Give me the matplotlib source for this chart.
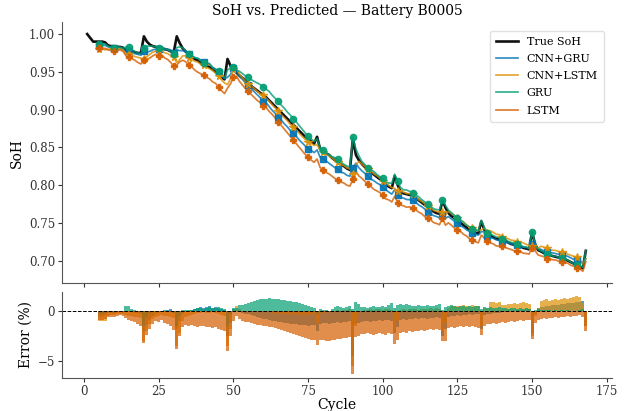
import numpy as np
import matplotlib
matplotlib.use("Agg")
import matplotlib.pyplot as plt

plt.rcParams['font.family'] = ['DejaVu Serif']

# ---------------- data ----------------
true_cycles = list(range(1, 169))
true_soh = [
    1.000, 0.995, 0.990, 0.990, 0.990, 0.990, 0.989, 0.985, 0.984, 0.984,
    0.983, 0.983, 0.982, 0.978, 0.978, 0.977, 0.976, 0.975, 0.975, 0.997,
    0.990, 0.986, 0.984, 0.983, 0.982, 0.981, 0.980, 0.979, 0.977, 0.976,
    0.997, 0.988, 0.981, 0.977, 0.973, 0.970, 0.967, 0.965, 0.962, 0.960,
    0.958, 0.956, 0.953, 0.950, 0.947, 0.943, 0.940, 0.967, 0.958, 0.953,
    0.949, 0.945, 0.942, 0.938, 0.935, 0.931, 0.928, 0.925, 0.922, 0.919,
    0.916, 0.912, 0.908, 0.904, 0.900, 0.896, 0.892, 0.888, 0.884, 0.880,
    0.876, 0.872, 0.868, 0.864, 0.861, 0.858, 0.855, 0.864, 0.848, 0.845,
    0.842, 0.840, 0.836, 0.833, 0.830, 0.827, 0.825, 0.822, 0.820, 0.862,
    0.840, 0.833, 0.828, 0.824, 0.820, 0.817, 0.814, 0.811, 0.808, 0.805,
    0.801, 0.798, 0.796, 0.812, 0.800, 0.791, 0.789, 0.788, 0.787, 0.786,
    0.783, 0.780, 0.777, 0.774, 0.771, 0.768, 0.765, 0.763, 0.762, 0.780,
    0.770, 0.763, 0.759, 0.756, 0.753, 0.750, 0.747, 0.744, 0.741, 0.739,
    0.737, 0.736, 0.752, 0.741, 0.735, 0.733, 0.731, 0.729, 0.728, 0.727,
    0.726, 0.724, 0.722, 0.721, 0.720, 0.719, 0.717, 0.716, 0.715, 0.738,
    0.722, 0.714, 0.712, 0.710, 0.708, 0.707, 0.706, 0.705, 0.704, 0.703,
    0.702, 0.700, 0.698, 0.696, 0.694, 0.692, 0.690, 0.713,
]

pred_start = 5  # predictions available from cycle 5 on

# prediction errors in % (cycles 5..168)
err_cnn_gru = [
    -0.6, -0.5, -0.4, -0.2, -0.2, -0.2, -0.1, -0.1, -0.2, 0.0,
    -0.1, -0.1, -0.2, -0.2, -0.3, -2.0, -1.4, -0.9, -0.5, -0.3,
    -0.2, -0.1, -0.1, 0.1, 0.2, -0.1, -1.8, -1.0, -0.3, -0.1,
    0.0, 0.1, 0.2, 0.3, 0.4, 0.3, 0.4, 0.5, 0.3, 0.4,
    0.3, 0.2, 0.1, -2.5, -1.2, 0.2, 0.1, -0.1, -0.2, -0.3,
    -0.3, -0.4, -0.5, -0.6, -0.7, -0.8, -0.8, -0.9, -1.0, -1.0,
    -1.1, -1.1, -1.2, -1.2, -1.3, -1.3, -1.3, -1.4, -1.4, -1.4,
    -1.5, -1.4, -1.4, -2.0, -1.3, -1.2, -1.2, -1.3, -1.2, -1.2,
    -1.1, -1.2, -1.1, -1.1, -1.0, -4.5, -1.3, -1.2, -1.1, -1.0,
    -1.0, -1.1, -1.0, -1.0, -0.9, -1.0, -0.9, -0.9, -1.0, -2.2,
    -1.6, -0.9, -0.8, -0.9, -0.8, -0.8, -0.7, -0.8, -0.7, -0.7,
    -0.8, -0.7, -0.7, -0.6, -0.7, -2.5, -1.8, -0.6, -0.5, -0.5,
    -0.4, -0.5, -0.4, -0.4, -0.3, -0.4, -0.3, -0.3, -1.8, -0.4,
    -0.3, -0.3, -0.2, -0.2, -0.2, -0.1, -0.1, -0.1, 0.0, 0.0,
    0.1, 0.1, 0.1, 0.2, 0.2, -2.2, -0.3, 0.3, 0.4, 0.4,
    0.5, 0.5, 0.6, 0.6, 0.6, 0.7, 0.7, 0.8, 0.8, 0.8,
    0.9, 0.9, 1.0, -1.5,
]
err_cnn_lstm = [
    -1.0, -1.0, -1.0, -0.5, -0.4, -0.4, -0.3, -0.3, -0.3, -0.4,
    -0.5, -0.5, -0.6, -0.6, -0.7, -3.0, -2.0, -1.3, -0.8, -0.6,
    -0.5, -0.4, -0.5, -0.5, -0.6, -0.7, -3.5, -2.2, -1.0, -0.6,
    -0.5, -0.4, -0.3, -0.2, -0.2, -0.1, -0.2, -0.2, -0.1, -0.2,
    -0.3, -0.4, -0.5, -3.5, -1.8, 0.1, 0.5, 0.2, 0.0, -0.1,
    -0.1, 0.0, 0.0, -0.1, -0.1, 0.0, -0.1, -0.1, -0.2, -0.2,
    -0.2, -0.3, -0.3, -0.3, -0.4, -0.3, -0.3, -0.4, -0.4, -0.4,
    -0.4, -0.3, -0.3, -1.2, -0.2, -0.2, -0.1, -0.1, 0.0, 0.0,
    0.1, 0.0, 0.1, 0.1, 0.2, -5.5, -1.5, -0.2, 0.0, 0.1,
    0.1, 0.2, 0.1, 0.2, 0.2, 0.1, 0.2, 0.2, 0.1, -2.0,
    -1.0, 0.1, 0.2, 0.1, 0.2, 0.2, 0.2, 0.1, 0.2, 0.2,
    0.2, 0.3, 0.2, 0.3, 0.2, -2.0, -1.2, 0.3, 0.5, 0.5,
    0.5, 0.5, 0.6, 0.5, 0.5, 0.6, 0.5, 0.5, -1.5, 0.3,
    0.3, 0.9, 0.9, 0.8, 0.9, 0.6, 0.6, 0.7, 0.7, 0.8,
    0.7, 0.8, 0.9, 0.8, 0.7, -2.5, -0.5, 0.3, 1.0, 1.1,
    1.2, 1.0, 1.1, 1.2, 1.1, 1.2, 1.3, 1.2, 1.3, 1.4,
    1.5, 1.4, 0.8, -1.5,
]
err_gru = [
    -0.3, -0.3, -0.2, -0.1, -0.1, -0.2, -0.1, 0.0, -0.1, 0.5,
    0.5, 0.2, 0.1, 0.0, -0.1, -1.5, -0.6, -0.2, 0.0, 0.0,
    0.0, 0.0, 0.1, 0.0, 0.0, -0.2, -1.5, -0.5, 0.1, 0.1,
    0.1, 0.1, 0.2, 0.3, 0.3, 0.2, 0.3, 0.4, 0.3, 0.3,
    0.4, 0.3, 0.2, -1.5, -0.3, 0.3, 0.3, 0.6, 0.6, 0.7,
    0.8, 0.9, 1.0, 1.1, 1.2, 1.2, 1.2, 1.3, 1.2, 1.2,
    1.2, 1.1, 1.1, 1.0, 1.0, 0.9, 0.9, 0.8, 0.7, 0.6,
    0.5, 0.4, 0.3, -0.3, 0.2, 0.1, 0.1, 0.0, 0.2, 0.4,
    0.5, 0.4, 0.3, 0.4, 0.5, 0.2, 0.9, 0.7, 0.4, 0.4,
    0.3, 0.4, 0.5, 0.4, 0.4, 0.5, 0.4, 0.6, 0.8, 0.3,
    0.6, 0.7, 0.6, 0.7, 0.6, 0.5, 0.5, 0.6, 0.5, 0.5,
    0.6, 0.5, 0.5, 0.6, 0.7, 0.1, 0.4, 0.5, 0.6, 0.5,
    0.4, 0.5, 0.5, 0.4, 0.5, 0.4, 0.5, 0.5, 0.2, 0.4,
    0.3, 0.4, 0.3, 0.3, 0.4, 0.3, 0.3, 0.2, 0.3, 0.3,
    0.2, 0.3, 0.2, 0.3, 0.2, 0.0, 0.1, 0.2, 0.1, 0.1,
    0.1, 0.1, 0.0, 0.1, 0.0, 0.1, 0.0, 0.1, 0.0, 0.0,
    0.0, 0.1, 0.2, 0.0,
]
err_lstm = [
    -0.9, -0.9, -0.8, -0.6, -0.6, -0.6, -0.5, -0.4, -0.5, -0.7,
    -0.9, -1.0, -1.1, -1.3, -1.5, -3.2, -2.4, -1.8, -1.3, -1.0,
    -1.1, -0.9, -1.2, -1.3, -1.5, -1.9, -3.8, -2.5, -1.6, -1.4,
    -1.5, -1.4, -1.5, -1.6, -1.5, -1.5, -1.6, -1.6, -1.7, -1.6,
    -1.8, -1.9, -2.0, -4.0, -2.5, -1.0, -0.5, -0.8, -1.0, -1.1,
    -1.1, -1.2, -1.3, -1.4, -1.4, -1.5, -1.5, -1.6, -1.6, -1.7,
    -1.8, -1.9, -2.0, -2.1, -2.2, -2.3, -2.4, -2.5, -2.6, -2.7,
    -2.8, -2.9, -2.9, -3.4, -2.9, -2.9, -3.0, -3.0, -2.9, -2.9,
    -2.8, -2.8, -2.7, -2.7, -2.6, -6.3, -2.6, -2.5, -2.3, -2.3,
    -2.2, -2.3, -2.4, -2.3, -2.2, -2.3, -2.4, -2.2, -2.3, -3.3,
    -2.9, -2.2, -2.1, -2.2, -2.0, -2.1, -2.0, -2.0, -1.9, -2.0,
    -1.9, -1.8, -1.9, -1.8, -1.9, -3.0, -3.0, -1.7, -1.6, -1.7,
    -1.6, -1.5, -1.6, -1.5, -1.6, -1.5, -1.6, -1.7, -2.4, -1.5,
    -1.3, -1.3, -1.2, -1.3, -1.2, -1.1, -1.2, -1.1, -1.0, -1.1,
    -1.0, -0.9, -1.0, -0.9, -0.9, -2.8, -1.2, -0.9, -0.8, -0.7,
    -0.8, -0.7, -0.7, -0.6, -0.7, -0.6, -0.6, -0.5, -0.6, -0.5,
    -0.5, -0.4, -0.6, -2.0,
]

model_names = ["CNN+GRU", "CNN+LSTM", "GRU", "LSTM"]
model_errors = [err_cnn_gru, err_cnn_lstm, err_gru, err_lstm]
model_colors = ["#0173b2", "#de8f05", "#029e73", "#d55e00"]
model_markers = ["s", "*", "o", "P"]

# ---------------- derived ----------------
true_arr = np.array(true_soh)
cyc = np.array(true_cycles)
pred_cyc = cyc[pred_start - 1:]
true_sub = true_arr[pred_start - 1:]
bar_edges = np.append(pred_cyc - 0.5, pred_cyc[-1] + 0.5)

fig = plt.figure(figsize=(6.28, 4.11), dpi=100)
ax1 = fig.add_axes([0.099, 0.311, 0.876, 0.635])
ax2 = fig.add_axes([0.099, 0.080, 0.876, 0.210], sharex=ax1)

ax1.plot(cyc, true_arr, color="#111111", lw=1.9, label="True SoH", zorder=3)
for name, err, col, mk in zip(model_names, model_errors, model_colors, model_markers):
    e = np.array(err)
    pred = true_sub * (1 + e / 100.0)
    ax1.plot(pred_cyc, pred, color=col, lw=1.25, alpha=0.8, label=name, zorder=4)
    ax1.plot(pred_cyc, pred, color=col, lw=0, marker=mk,
             markersize=5.5 if mk == "*" else 4.5,
             markevery=5, alpha=0.9, zorder=5)

ax1.set_title("SoH vs. Predicted — Battery B0005", fontsize=10, pad=5)
ax1.set_ylabel("SoH", fontsize=10, labelpad=4)
ax1.set_yticks([0.70, 0.75, 0.80, 0.85, 0.90, 0.95, 1.00])
ax1.tick_params(axis="x", labelbottom=False)
leg = ax1.legend(loc="upper right", fontsize=8, frameon=True, framealpha=0.9,
                 edgecolor="#dddddd", handlelength=2.0, labelspacing=0.65,
                 borderpad=0.55, borderaxespad=0.75)
for sp in ["top", "right"]:
    ax1.spines[sp].set_visible(False)

for name, err, col in zip(model_names, model_errors, model_colors):
    ax2.stairs(err, bar_edges, baseline=0, fill=True, color=col, alpha=0.7, linewidth=0)
ax2.axhline(0, color="black", lw=0.7, ls="--")
ax2.set_ylabel("Error (%)", fontsize=10, labelpad=4)
ax2.set_xlabel("Cycle", fontsize=10, labelpad=0)
ax2.set_yticks([-5, 0])
ax2.set_xticks([0, 25, 50, 75, 100, 125, 150, 175])
for sp in ["top", "right"]:
    ax2.spines[sp].set_visible(False)

for ax in (ax1, ax2):
    ax.tick_params(labelsize=8.5, length=3, pad=2, colors="#333333")
    for sp in ["left", "bottom"]:
        ax.spines[sp].set_color("#555555")

fig.savefig("out.png", dpi=100)
